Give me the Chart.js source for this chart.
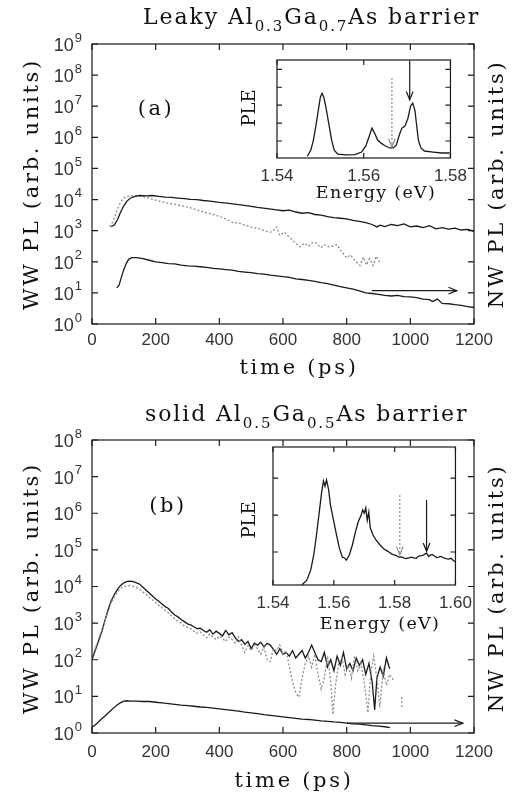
<!DOCTYPE html>
<html>
<head>
<meta charset="utf-8">
<script src="https://cdn.jsdelivr.net/npm/chart.js@4.4.1/dist/chart.umd.min.js"></script>
<style>
body { margin: 0; background: #fff; }
#wrap { position: relative; width: 514px; height: 796px; overflow: hidden; }
canvas { position: absolute; }
.t { position: absolute; font-family: 'DejaVu Serif', serif; color: #111; white-space: nowrap; line-height: 1; }
.c { transform: translate(-50%, -50%); }
.rot { transform: translate(-50%, -50%) rotate(-90deg); }
.ttl { font-size: 22px; letter-spacing: 1.9px; }
.ax { font-size: 21px; letter-spacing: 2.7px; }
.en { font-size: 17.5px; letter-spacing: 1.3px; }
.ple { font-size: 18px; }
.lab { font-size: 21px; letter-spacing: 2.5px; }
sub { font-size: 15px; vertical-align: -7px; }
</style>
</head>
<body>
<div id="wrap">
  <canvas id="mainA" width="514" height="390" style="left:0;top:0"></canvas>
  <canvas id="insetA" width="255" height="150" style="left:220px;top:50px"></canvas>
  <canvas id="mainB" width="514" height="406" style="left:0;top:390px"></canvas>
  <canvas id="insetB" width="265" height="185" style="left:215px;top:437px"></canvas>

  <div class="t ttl" style="left:143px;top:6px">Leaky Al<sub>0.3</sub>Ga<sub>0.7</sub>As barrier</div>
  <div class="t c lab" style="left:156px;top:108px">(a)</div>
  <div class="t rot ple" style="left:249px;top:108px">PLE</div>
  <div class="t c en" style="left:376px;top:193px">Energy (eV)</div>
  <div class="t c ax" style="left:299px;top:367px">time (ps)</div>
  <div class="t rot ax" style="left:31px;top:184px">WW PL (arb. units)</div>
  <div class="t rot ax" style="left:496px;top:184px">NW PL (arb. units)</div>

  <div class="t ttl" style="left:145px;top:403px">solid Al<sub>0.5</sub>Ga<sub>0.5</sub>As barrier</div>
  <div class="t c lab" style="left:168px;top:505px">(b)</div>
  <div class="t rot ple" style="left:249px;top:520px">PLE</div>
  <div class="t c en" style="left:380px;top:624px">Energy (eV)</div>
  <div class="t c ax" style="left:294px;top:780px">time (ps)</div>
  <div class="t rot ax" style="left:31px;top:588px">WW PL (arb. units)</div>
  <div class="t rot ax" style="left:496px;top:588px">NW PL (arb. units)</div>
</div>

<script>
// ---- axes ----
const timeTicks = [0, 200, 400, 600, 800, 1000, 1200];
const decadesA = [1, 10, 100, 1e3, 1e4, 1e5, 1e6, 1e7, 1e8, 1e9];
const decadesB = [1, 10, 100, 1e3, 1e4, 1e5, 1e6, 1e7, 1e8];
const energyTicksA = [1.54, 1.56, 1.58];
const energyTicksB = [1.54, 1.56, 1.58, 1.60];
const pleTicksA = [1, 2, 3, 4, 5];
const pleTicksB = [1, 2, 3];

// ---- panel (a): leaky barrier ----
const timeWWa = [60,70,80,90,100,110,120,135,150,170,190,210,230,250,270,290,310,330,350,370,400,430,460,490,520,550,580,600,620,640,660,680,700,720,740,760,780,800,820,840,860,880,895,905,920,940,960,980,1000,1020,1040,1060,1080,1100,1120,1140,1160,1180,1200];
const wwA = [1350,1510,2240,3980,6310,8910,11000,12600,13500,13200,13500,12600,12000,11700,11200,10700,10200,10000,9330,8910,8130,7590,6920,6310,5620,5130,4680,4370,4570,3980,3630,3800,3310,3160,2820,2630,2510,2400,2140,2000,1820,1580,1320,1510,1350,1580,1450,1660,1320,1410,1260,1450,1150,1260,1120,1200,1050,1100,955];

const timeWWdotA = [55,65,75,85,95,105,120,140,160,180,200,220,240,260,280,300,320,340,360,380,400,420,443,460,480,506,520,540,560,572,580,590,605,620,640,653,668,680,693,705,718,730,745,758,770,780,790,800,812,825,842,852,862,872,883,893,904];
const wwDotA = [1350,1910,3550,6610,10000,12000,13200,13500,12600,11000,9550,8510,7590,7080,6310,5750,5010,4270,3720,3310,2880,2400,1820,1780,1510,1260,1200,1000,891,1050,1320,708,891,603,398,302,398,316,417,398,282,355,302,316,355,240,178,135,166,112,75.9,141,79.4,126,75.9,151,95.5];

const timeNWa = [78,85,92,100,108,115,125,140,160,180,200,220,240,260,280,300,320,340,360,380,400,420,440,460,480,500,520,540,560,580,600,620,640,660,680,700,720,740,760,780,800,820,840,860,880,900,920,940,960,980,1000,1020,1040,1060,1070,1085,1100,1120,1140,1160,1180,1200];
const nwA = [14.5,17.8,31.6,56.2,89.1,120,135,135,126,112,100,93.3,87.1,85.1,77.6,74.1,72.4,69.2,66.1,61.7,58.9,56.2,53.7,49.0,46.8,44.7,41.7,39.8,37.2,35.5,33.1,31.6,28.2,26.9,25.1,23.4,21.4,20.0,17.8,15.8,14.5,13.2,11.7,10.0,9.55,8.91,8.32,7.94,8.32,7.59,7.41,7.08,6.31,6.03,5.25,6.31,4.57,4.47,4.17,3.98,3.63,3.39];

const arrowTimeA = [879, 1146];
const arrowLevelA = [11.8, 11.8];

const pleEnergyA = [1.5470,1.5478,1.5484,1.5490,1.5496,1.5500,1.5504,1.5508,1.5514,1.5520,1.5526,1.5532,1.5540,1.5560,1.5580,1.5595,1.5605,1.5612,1.5619,1.5625,1.5632,1.5640,1.5650,1.5660,1.5668,1.5675,1.5682,1.5688,1.5695,1.5702,1.5708,1.5713,1.5718,1.5722,1.5726,1.5732,1.5740,1.5760,1.5780,1.5798];
const pleA = [0.15,0.49,1.05,1.88,2.83,3.44,3.66,3.44,2.72,1.88,1.05,0.49,0.27,0.22,0.24,0.38,0.72,1.22,1.72,1.44,1.05,0.88,0.72,0.61,0.61,0.77,1.33,1.72,1.83,2.27,2.94,3.11,2.72,1.88,1.05,0.61,0.44,0.38,0.33,0.33];
const markSolidA = { e: 1.5706, from: 5.5, to: 3.29 };
const markDotA = { e: 1.5665, from: 4.52, to: 0.66 };

// ---- panel (b): solid barrier ----
const timeWWb = [0,10,20,30,40,50,60,70,80,90,100,110,120,130,140,150,160,170,180,190,200,210,220,230,240,250,260,270,280,290,300,310,320,330,340,350,360,370,380,390,400,410,420,430,440,450,460,470,480,490,500,510,520,530,540,550,560,570,580,590,600,610,620,630,640,650,660,670,680,690,700,710,720,730,740,750,760,770,780,790,800,810,820,830,840,850,860,870,880,888,895,905,915,925,935];
const wwB = [100,178,316,562,1120,2240,3980,6030,8320,10700,
  12600,13800,14100,13500,12600,11500,9550,7940,6610,5500,
  4570,3980,3310,2820,2510,2000,1660,1480,1260,1100,
  955,891,794,708,724,631,562,661,501,603,
  525,447,631,479,550,398,316,355,263,316,
  200,282,251,302,224,282,251,191,141,200,
  141,158,126,178,112,141,178,112,158,251,
  158,100,89.1,158,63.1,100,50.1,126,70.8,158,
  56.2,79.4,50.1,112,70.8,100,39.8,79.4,25.1,
  4.27,31.6,63.1,35.5,112,56.2];

const timeWWdotB = [0,10,20,30,40,50,60,70,80,90,100,110,120,130,140,150,160,170,180,190,200,210,220,230,240,250,260,270,280,290,300,310,320,330,340,350,360,370,380,390,400,410,420,430,440,450,460,470,480,490,500,510,520,530,540,550,560,570,580,590,600,610,620,630,640,650,660,670,680,690,700,710,720,730,740,750,757,765,775,785,795,805,815,825,835,845,855,867,875,885,895,904,915,925,935,946];
const wwDotB = [112,200,355,631,1120,2000,3550,5250,7080,8910,
  10000,10500,10500,10000,9330,8320,7080,6030,5010,4270,
  3630,3020,2630,2240,1910,1580,1320,1120,1000,832,
  759,708,603,525,575,479,398,501,417,355,
  447,380,316,417,355,282,417,251,158,240,
  178,251,200,141,224,100,89.1,200,178,251,
  141,178,63.1,25.1,12.6,9.55,31.6,79.4,126,63.1,
  141,39.8,15.8,31.6,126,25.1,
  3.16,20.0,79.4,112,39.8,70.8,31.6,126,50.1,79.4,25.1,3.55,39.8,126,31.6,5.01,50.1,20.0,39.8,28.2];
const strayDotTimeB = [973, 973];
const strayDotB = [9.5, 5.1];

const timeNWb = [0,10,20,30,40,50,60,70,80,90,100,110,120,140,160,180,200,220,240,260,280,300,320,340,360,380,400,420,440,460,480,500,520,540,560,580,600,620,640,660,680,700,720,740,760,780,800,820,840,860,880,900,920,936];
const nwB = [1.45,1.66,2.0,2.4,2.88,3.47,4.17,5.01,5.89,6.76,7.41,7.59,7.41,7.41,7.24,7.24,6.92,6.61,6.31,6.03,5.75,5.62,5.37,5.13,5.01,4.79,4.57,4.37,4.17,3.98,3.72,3.55,3.39,3.16,3.02,2.88,2.75,2.63,2.51,2.4,2.34,2.24,2.14,2.09,2.0,1.95,1.86,1.78,1.74,1.66,1.58,1.55,1.48,1.41];

const arrowTimeB = [800, 1165];
const arrowLevelB = [1.85, 1.85];

const pleEnergyB = [1.5495,1.5511,1.5524,1.5534,1.5543,1.5553,1.5560,1.5566,1.5571,1.5576,1.5583,1.5589,1.5599,1.5609,1.5618,1.5628,1.5635,1.5641,1.5651,1.5661,1.5671,1.5680,1.5690,1.5695,1.5700,1.5705,1.5710,1.5715,1.5720,1.5729,1.5739,1.5752,1.5765,1.5775,1.5781,1.5790,1.5798,1.5806,1.5814,1.5822,1.5830,1.5838,1.5847,1.5855,1.5863,1.5871,1.5879,1.5888,1.5896,1.5900,1.5905,1.5912,1.5918,1.5925,1.5931,1.5938,1.5945,1.5953,1.5961,1.5969,1.5977,1.5985,1.5993,1.6000];
const pleB = [0.11,0.24,0.51,0.92,1.46,2.14,2.62,2.92,2.78,2.95,2.68,2.27,1.86,1.46,1.11,0.86,0.84,0.78,0.92,1.19,1.54,1.81,2.0,2.14,2.05,2.19,1.86,2.08,1.65,1.46,1.32,1.19,1.08,1.03,1.0,0.95,0.92,0.9,0.86,0.87,0.84,0.82,0.84,0.86,0.84,0.83,0.89,0.9,0.92,0.95,0.97,0.88,0.92,0.93,0.89,0.85,0.86,0.88,0.84,0.82,0.81,0.83,0.77,0.73];
const markDotB = { e: 1.5817, from: 2.54, to: 0.92 };
const markSolidB = { e: 1.5905, from: 2.41, to: 1.02 };

// ---- helpers ----
const INK = '#1a1a1a';
const GREY = '#8c8c8c';
const tickFont = { family: "'Liberation Sans', Arial, sans-serif", size: 17 };

const pairs = (xs, ys) => xs.map((x, i) => ({ x, y: ys[i] }));
const solid = (data, w) => ({ data, borderColor: INK, borderWidth: w || 1.3 });
const dotted = (data) => ({ data, borderColor: GREY, borderWidth: 1.3, borderDash: [2, 2] });

// frame with inward ticks on all four sides
const frameTicks = {
  id: 'frameTicks',
  afterDatasetsDraw(chart, args, opts) {
    const { ctx, chartArea: a, scales } = chart;
    const len = opts.len || 6;
    ctx.save();
    ctx.strokeStyle = INK;
    ctx.lineWidth = 1.2;
    ctx.strokeRect(a.left, a.top, a.right - a.left, a.bottom - a.top);
    ctx.beginPath();
    scales.x.ticks.forEach(t => {
      const px = scales.x.getPixelForValue(t.value);
      ctx.moveTo(px, a.bottom); ctx.lineTo(px, a.bottom - len);
      ctx.moveTo(px, a.top); ctx.lineTo(px, a.top + len);
    });
    scales.y.ticks.forEach(t => {
      const py = scales.y.getPixelForValue(t.value);
      ctx.moveTo(a.left, py); ctx.lineTo(a.left + len, py);
      ctx.moveTo(a.right, py); ctx.lineTo(a.right - len, py);
    });
    ctx.stroke();
    ctx.restore();
  }
};

// open arrow heads at the end of datasets flagged with arrow:true
const arrowHeads = {
  id: 'arrowHeads',
  afterDatasetsDraw(chart) {
    const ctx = chart.ctx;
    chart.data.datasets.forEach((ds, i) => {
      if (!ds.arrow) return;
      const pts = chart.getDatasetMeta(i).data;
      const p1 = pts[pts.length - 2], p2 = pts[pts.length - 1];
      const ang = Math.atan2(p2.y - p1.y, p2.x - p1.x);
      const L = 9, spread = 0.38;
      ctx.save();
      ctx.strokeStyle = ds.borderColor;
      ctx.lineWidth = 1.2;
      ctx.beginPath();
      ctx.moveTo(p2.x - L * Math.cos(ang - spread), p2.y - L * Math.sin(ang - spread));
      ctx.lineTo(p2.x, p2.y);
      ctx.lineTo(p2.x - L * Math.cos(ang + spread), p2.y - L * Math.sin(ang + spread));
      ctx.stroke();
      ctx.restore();
    });
  }
};

// "10^n" labels with a raised exponent
const decadeLabels = {
  id: 'decadeLabels',
  afterDraw(chart) {
    const { ctx, chartArea: a } = chart;
    const y = chart.scales.y;
    ctx.save();
    ctx.fillStyle = '#333';
    ctx.textBaseline = 'middle';
    ctx.textAlign = 'right';
    y.ticks.forEach(t => {
      const py = y.getPixelForValue(t.value);
      const e = String(Math.round(Math.log10(t.value)));
      const xr = a.left - 10;
      ctx.font = "13px 'Liberation Sans', Arial, sans-serif";
      const ew = ctx.measureText(e).width;
      ctx.fillText(e, xr, py - 6);
      ctx.font = "18px 'Liberation Sans', Arial, sans-serif";
      ctx.fillText('10', xr - ew - 1, py + 2);
    });
    ctx.restore();
  }
};

const whiteBox = {
  id: 'whiteBox',
  beforeDraw(chart) {
    const { ctx, chartArea: a } = chart;
    ctx.save();
    ctx.fillStyle = '#fff';
    ctx.fillRect(a.left, a.top, a.right - a.left, a.bottom - a.top);
    ctx.restore();
  }
};

function mainChart(id, datasets, decades, box) {
  return new Chart(document.getElementById(id), {
    type: 'line',
    data: { datasets },
    options: {
      responsive: false,
      animation: false,
      devicePixelRatio: 1,
      layout: { padding: { top: box.top, right: 40, left: 0, bottom: 0 } },
      elements: { point: { radius: 0 }, line: { tension: 0 } },
      plugins: { legend: { display: false }, tooltip: { enabled: false }, frameTicks: { len: 6 } },
      scales: {
        x: {
          type: 'linear', min: 0, max: 1200,
          afterBuildTicks: s => { s.ticks = timeTicks.map(v => ({ value: v })); },
          afterFit: s => { s.height = box.xh; },
          grid: { display: false, drawTicks: false },
          border: { display: false },
          ticks: { font: tickFont, color: '#333', padding: box.pad, maxRotation: 0, autoSkip: false,
                   callback: v => String(v) }
        },
        y: {
          type: 'logarithmic', min: decades[0], max: decades[decades.length - 1],
          afterBuildTicks: s => { s.ticks = decades.map(v => ({ value: v })); },
          afterFit: s => { s.width = 92; },
          grid: { display: false, drawTicks: false },
          border: { display: false },
          ticks: { display: false }
        }
      }
    },
    plugins: [frameTicks, arrowHeads, decadeLabels]
  });
}

function insetChart(id, datasets, ex, ey, box) {
  return new Chart(document.getElementById(id), {
    type: 'line',
    data: { datasets },
    options: {
      responsive: false,
      animation: false,
      devicePixelRatio: 1,
      layout: { padding: { top: box.top, right: box.right, left: 0, bottom: 0 } },
      elements: { point: { radius: 0 }, line: { tension: 0 } },
      plugins: { legend: { display: false }, tooltip: { enabled: false }, frameTicks: { len: 5 } },
      scales: {
        x: {
          type: 'linear', min: ex[0], max: ex[ex.length - 1],
          afterBuildTicks: s => { s.ticks = ex.map(v => ({ value: v })); },
          afterFit: s => { s.height = box.xh; },
          grid: { display: false, drawTicks: false },
          border: { display: false },
          ticks: { font: tickFont, color: '#333', padding: box.pad, maxRotation: 0, autoSkip: false,
                   callback: v => v.toFixed(2) }
        },
        y: {
          type: 'linear', min: box.ymin, max: box.ymax,
          afterBuildTicks: s => { s.ticks = ey.map(v => ({ value: v })); },
          afterFit: s => { s.width = box.left; },
          grid: { display: false, drawTicks: false },
          border: { display: false },
          ticks: { display: false }
        }
      }
    },
    plugins: [whiteBox, frameTicks, arrowHeads]
  });
}

const mark = (m, color, dash) => ({
  data: [{ x: m.e, y: m.from }, { x: m.e, y: m.to }],
  borderColor: color, borderWidth: 1.2, borderDash: dash || [], arrow: true
});

mainChart('mainA', [
  solid(pairs(timeNWa, nwA)),
  solid(pairs(timeWWa, wwA)),
  dotted(pairs(timeWWdotA, wwDotA)),
  Object.assign(solid(pairs(arrowTimeA, arrowLevelA), 1.2), { arrow: true })
], decadesA, { top: 44, xh: 66, pad: 6 });

insetChart('insetA', [
  solid(pairs(pleEnergyA, pleA)),
  mark(markSolidA, INK),
  mark(markDotA, GREY, [2, 2])
], energyTicksA, pleTicksA, { top: 10, right: 23, left: 57, xh: 42, pad: 8, ymin: 0.05, ymax: 5.52 });

mainChart('mainB', [
  solid(pairs(timeNWb, nwB)),
  dotted(pairs(timeWWdotB, wwDotB)),
  dotted(pairs(strayDotTimeB, strayDotB)),
  solid(pairs(timeWWb, wwB)),
  Object.assign(solid(pairs(arrowTimeB, arrowLevelB), 1.2), { arrow: true })
], decadesB, { top: 50, xh: 63, pad: 9 });

insetChart('insetB', [
  solid(pairs(pleEnergyB, pleB)),
  mark(markDotB, GREY, [2, 2]),
  mark(markSolidB, INK)
], energyTicksB, pleTicksB, { top: 10, right: 23, left: 58, xh: 37, pad: 8, ymin: 0.108, ymax: 3.84 });
</script>
</body>
</html>
